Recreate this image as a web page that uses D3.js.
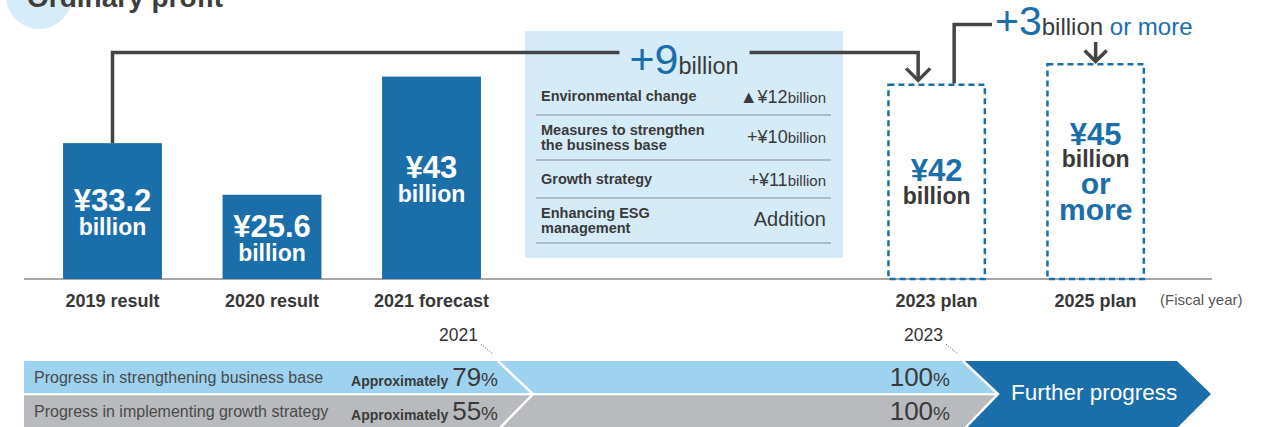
<!DOCTYPE html>
<html><head><meta charset="utf-8">
<script src="https://cdn.jsdelivr.net/npm/d3@7"></script>
<style>
body{margin:0;background:#fff;}
svg{display:block;font-family:"Liberation Sans",Arial,Helvetica,sans-serif;}
</style></head><body>
<svg id="chart" width="1278" height="427"></svg>
<script>
// ---------- data ----------
const categories = ["2019 result","2020 result","2021 forecast","2023 plan","2025 plan"];
const profits = [33.2, 25.6, 43, 42, 45];
const valueLabels = ["¥33.2","¥25.6","¥43","¥42","¥45"];
const planFlags = [false,false,false,true,true];
const breakdownLabels = [["Environmental change"],["Measures to strengthen","the business base"],["Growth strategy"],["Enhancing ESG","management"]];
const breakdownValues = ["▲¥12","+¥10","+¥11","Addition"];
const breakdownUnits = ["billion","billion","billion",""];
const change2023 = "+9";
const change2025 = "+3";
const progressRows = ["Progress in strengthening business base","Progress in implementing growth strategy"];
const progress2021 = [79, 55];
const progress2023 = [100, 100];
const milestoneYears = [2021, 2023];

// ---------- setup ----------
const svg = d3.select("#chart");
const DARK = "#3a3a3a", BLUE = "#1a6eaa", LINE = "#454545";
const baseY = 279;

// title
svg.append("circle").attr("cx",39).attr("cy",-4).attr("r",33).attr("fill","#d6ecf9");
svg.append("text").attr("x",27).attr("y",7).attr("font-size",28).attr("font-weight","bold")
  .attr("fill","#3d3d3d").text("Ordinary profit");

// scales
const actualCats = categories.filter((c,i)=>!planFlags[i]);
const planCats = categories.filter((c,i)=>planFlags[i]);
const xA = d3.scaleBand().domain(actualCats).range([32.75,511.25]).paddingInner(0.38).paddingOuter(0.19);
const xP = d3.scaleBand().domain(planCats).range([857,1175]).paddingInner(0.38).paddingOuter(0.19);
const isPlan = c => planFlags[categories.indexOf(c)];
const xPos = c => isPlan(c) ? xP(c) : xA(c);
const bw = xA.bandwidth();
const xMid = c => xPos(c) + bw/2;
const y = d3.scaleLinear().domain([13.2,45]).range([baseY,63]);

const data = categories.map((c,i)=>({cat:c, v:profits[i], label:valueLabels[i], plan:planFlags[i]}));

// center breakdown box (behind lines)
const box = {x0:525, x1:843, y0:31, y1:258};
svg.append("rect").attr("x",box.x0).attr("y",box.y0).attr("width",box.x1-box.x0).attr("height",box.y1-box.y0)
  .attr("fill","#d5ebf8");

// baseline
svg.append("line").attr("x1",24).attr("x2",1212).attr("y1",baseY).attr("y2",baseY)
  .attr("stroke","#8a8a8a").attr("stroke-width",1.5);

// bars
svg.selectAll("rect.bar").data(data.filter(d=>!d.plan)).enter().append("rect")
  .attr("class","bar").attr("x",d=>xPos(d.cat)).attr("width",bw)
  .attr("y",d=>y(d.v)).attr("height",d=>baseY-y(d.v)).attr("fill",BLUE);
svg.selectAll("rect.plan").data(data.filter(d=>d.plan)).enter().append("rect")
  .attr("class","plan").attr("x",d=>xPos(d.cat)+1.25).attr("width",bw-2.5)
  .attr("y",d=>y(d.v)+1.25).attr("height",d=>baseY-y(d.v)-1.25)
  .attr("fill","none").attr("stroke",BLUE).attr("stroke-width",2.5).attr("stroke-dasharray","6,4");

// axes
[xA,xP].forEach(sc=>{
  const g = svg.append("g").attr("transform",`translate(0,${baseY})`)
    .call(d3.axisBottom(sc).tickSize(0).tickPadding(15));
  g.select(".domain").remove();
  g.selectAll("text").attr("font-size",18).attr("font-weight","bold").attr("fill","#383838")
    .attr("font-family",'"Liberation Sans",Arial,sans-serif');
});
svg.append("text").attr("x",1160).attr("y",305).attr("font-size",15).attr("fill","#555").text("(Fiscal year)");

// bar labels
data.forEach(d=>{
  const mid = (y(d.v)+baseY)/2, cx = xMid(d.cat);
  let lines;
  if(!d.plan){
    lines = [{t:d.label,s:31,c:"#fff",dy:0},{t:"billion",s:23,c:"#fff",dy:24}];
  } else if(d.cat==="2023 plan"){
    lines = [{t:d.label,s:31,c:BLUE,dy:0},{t:"billion",s:23,c:DARK,dy:23}];
  } else {
    lines = [{t:d.label,s:31,c:BLUE,dy:-26},{t:"billion",s:23,c:DARK,dy:-4},{t:"or",s:30,c:BLUE,dy:23},{t:"more",s:30,c:BLUE,dy:49}];
  }
  lines.forEach(l=>{
    svg.append("text").attr("x",cx).attr("y",mid+l.dy).attr("text-anchor","middle")
      .attr("font-size",l.s).attr("font-weight","bold").attr("fill",l.c).text(l.t);
  });
});

// connector 1: 2019 -> 2023 with +9 billion
const topY = 52.5;
const c9 = svg.append("text").attr("x",(box.x0+box.x1)/2).attr("y",74).attr("text-anchor","middle").attr("fill",DARK);
c9.append("tspan").attr("font-size",43).attr("fill",BLUE).text(change2023);
c9.append("tspan").attr("font-size",23.5).text("billion");
const bb9 = c9.node().getBBox();
const x2019 = xMid(categories[0]), arrX = xMid("2023 plan")-18.5, arrTip = y(42)-3;
svg.append("path").attr("fill","none").attr("stroke",LINE).attr("stroke-width",3.5)
  .attr("d",`M${x2019},${y(profits[0])}V${topY}H${bb9.x-10}`);
svg.append("path").attr("fill","none").attr("stroke",LINE).attr("stroke-width",3.5)
  .attr("d",`M${bb9.x+bb9.width+11},${topY}H${arrX}V${arrTip}`);
svg.append("path").attr("fill","none").attr("stroke",LINE).attr("stroke-width",3.5)
  .attr("d",`M${arrX-12},${arrTip-12}L${arrX},${arrTip}L${arrX+12},${arrTip-12}`);

// connector 2: 2023 -> 2025 with +3 billion or more
const x3 = xMid("2023 plan")+17.5, top3 = 24.5;
svg.append("path").attr("fill","none").attr("stroke",LINE).attr("stroke-width",3.5)
  .attr("d",`M${x3},${y(42)}V${top3}H992`);
const c3 = svg.append("text").attr("x",995).attr("y",35).attr("fill",DARK);
c3.append("tspan").attr("font-size",41).attr("fill",BLUE).text(change2025);
c3.append("tspan").attr("font-size",24).text("billion");
c3.append("tspan").attr("font-size",24).attr("fill",BLUE).text(" or more");
const x25 = xMid("2025 plan"), tip25 = y(45)-1.5;
svg.append("path").attr("fill","none").attr("stroke",LINE).attr("stroke-width",3.5)
  .attr("d",`M${x25},42V${tip25}M${x25-11},${tip25-11}L${x25},${tip25}L${x25+11},${tip25-11}`);

// breakdown table
let ry = 77;
breakdownLabels.forEach((lab,i)=>{
  const h = lab.length>1 ? 45 : 38;
  const bottom = ry + h;
  if(lab.length===1){
    svg.append("text").attr("x",541).attr("y",bottom-14).attr("font-size",14.5).attr("font-weight","bold").attr("fill",DARK).text(lab[0]);
  } else {
    svg.append("text").attr("x",541).attr("y",bottom-25).attr("font-size",14.5).attr("font-weight","bold").attr("fill",DARK).text(lab[0]);
    svg.append("text").attr("x",541).attr("y",bottom-10).attr("font-size",14.5).attr("font-weight","bold").attr("fill",DARK).text(lab[1]);
  }
  const vt = svg.append("text").attr("x",826).attr("y",bottom-(lab.length>1?17:12)).attr("text-anchor","end").attr("fill",DARK);
  vt.append("tspan").attr("font-size",breakdownUnits[i]?18:20).text(breakdownValues[i]);
  if(breakdownUnits[i]) vt.append("tspan").attr("font-size",15).text(breakdownUnits[i]);
  svg.append("line").attr("x1",536).attr("x2",831).attr("y1",bottom).attr("y2",bottom)
    .attr("stroke","#8c8c8c").attr("stroke-width",1.2);
  ry = bottom;
});

// ---------- progress timeline ----------
const xT = d3.scaleLinear().domain(milestoneYears).range([498,963]);
const rowY = d3.scaleBand().domain(progressRows).range([361,427.5]).paddingInner(0.06);
const rowFill = ["#9dd3f0","#b9babd"];
const chev = 35, arrowEnd = 1211, midY = 394;
progressRows.forEach((r,i)=>{
  svg.append("rect").attr("x",24).attr("y",rowY(r)).attr("width",xT(2023)+chev-24).attr("height",rowY.bandwidth()+(i===1?2:0))
    .attr("fill",rowFill[i]);
});
// white chevron at 2021
svg.append("path").attr("fill","none").attr("stroke","#fff").attr("stroke-width",2.5)
  .attr("d",`M${xT(2021)},361L${xT(2021)+chev},${midY}L${xT(2021)},430`);
// dark arrow
const xb = xT(2023);
svg.append("path").attr("fill",BLUE)
  .attr("d",`M${xb},361H${arrowEnd-34}L${arrowEnd},${midY}L${arrowEnd-34},428H${xb}L${xb+chev},${midY}Z`);
svg.append("path").attr("fill","none").attr("stroke","#fff").attr("stroke-width",2.5)
  .attr("d",`M${xb},361L${xb+chev},${midY}L${xb},430`);
svg.append("text").attr("x",xb+48).attr("y",400).attr("font-size",22.5).attr("fill","#fff").text("Further progress");

progressRows.forEach((r,i)=>{
  const top = rowY(r);
  svg.append("text").attr("x",34).attr("y",top+22).attr("font-size",16).attr("fill","#4a4a4a").text(r);
  const t1 = svg.append("text").attr("x",xT(2021)).attr("y",top+25).attr("text-anchor","end").attr("fill",DARK);
  t1.append("tspan").attr("font-size",14).attr("font-weight","bold").text("Approximately ");
  t1.append("tspan").attr("font-size",26).text(progress2021[i]);
  t1.append("tspan").attr("font-size",19).text("%");
  const t2 = svg.append("text").attr("x",xT(2023)-13).attr("y",top+25).attr("text-anchor","end").attr("fill",DARK);
  t2.append("tspan").attr("font-size",26).text(progress2023[i]);
  t2.append("tspan").attr("font-size",19).text("%");
});
milestoneYears.forEach(yr=>{
  const xm = xT(yr);
  svg.append("text").attr("x",xm-20).attr("y",341).attr("text-anchor","end").attr("font-size",17.5).attr("fill","#333").text(yr);
  svg.append("line").attr("x1",xm-17).attr("y1",344).attr("x2",xm-5).attr("y2",354)
    .attr("stroke","#666").attr("stroke-width",1).attr("stroke-dasharray","1.2,1.5");
});
</script>
</body></html>
